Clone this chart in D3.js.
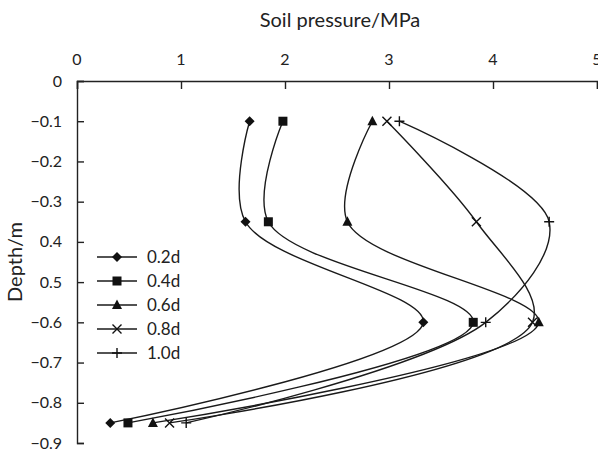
<!DOCTYPE html>
<html lang="en">
<head>
    <meta charset="UTF-8">
    <title>Soil pressure vs depth</title>
    <script src="https://d3js.org/d3.v7.min.js"></script>
    <style>
        body { margin: 0; background: #fff; }
        svg { display: block; }
        text { font-family: Lato, "Open Sans", sans-serif; fill: #222; }
        .tick-label { font-size: 16px; }
        .axis-title { font-size: 20px; text-anchor: middle; }
        .legend-label { font-size: 17px; }
        .series { fill: none; stroke: #1a1a1a; stroke-width: 1.4px; }
    </style>
</head>
<body>
    <div id="chart"></div>

    <script>
        const depths = [-0.1, -0.35, -0.6, -0.85];
        const seriesNames = ["0.2d", "0.4d", "0.6d", "0.8d", "1.0d"];
        const p02 = [1.66, 1.62, 3.33, 0.32];
        const p04 = [1.98, 1.84, 3.81, 0.49];
        const p06 = [2.84, 2.60, 4.44, 0.73];
        const p08 = [2.98, 3.84, 4.38, 0.89];
        const p10 = [3.10, 4.54, 3.93, 1.05];
        const markers = ["diamond", "square", "triangle", "cross", "plus"];
        const xTicks = [0, 1, 2, 3, 4, 5];
        const yTicks = [0, -0.1, -0.2, -0.3, -0.4, -0.5, -0.6, -0.7, -0.8, -0.9];

        const allSeries = [p02, p04, p06, p08, p10];

        const width = 598, height = 455;
        const svg = d3.select("#chart").append("svg")
            .attr("width", width)
            .attr("height", height);

        const x = d3.scaleLinear().domain([0, 5]).range([77, 597]);
        const y = d3.scaleLinear().domain([0, -0.9]).range([81, 443]);

        // axes (ticks point into the plot)
        svg.append("g")
            .attr("transform", `translate(0,${y(0)})`)
            .call(d3.axisBottom(x).tickValues(xTicks).tickSize(8).tickFormat(""))
            .call(g => g.select(".domain").attr("stroke", "#222").attr("stroke-width", 1.4))
            .call(g => g.selectAll(".tick line").attr("stroke", "#222").attr("stroke-width", 1.4));

        svg.append("g")
            .attr("transform", `translate(${x(0)},0)`)
            .call(d3.axisRight(y).tickValues(yTicks).tickSize(7).tickFormat(""))
            .call(g => g.select(".domain").attr("stroke", "#222").attr("stroke-width", 1.4))
            .call(g => g.selectAll(".tick line").attr("stroke", "#222").attr("stroke-width", 1.4));

        svg.append("g").selectAll("text")
            .data(xTicks)
            .enter().append("text")
            .attr("class", "tick-label")
            .attr("x", d => x(d))
            .attr("y", 65)
            .attr("text-anchor", "middle")
            .text(d => d);

        svg.append("g").selectAll("text")
            .data(yTicks)
            .enter().append("text")
            .attr("class", "tick-label")
            .attr("x", 62)
            .attr("y", d => y(d))
            .attr("dy", "0.35em")
            .attr("text-anchor", "end")
            .text(d => d === 0 ? "0" : d3.format(".1f")(d));

        // titles
        svg.append("text")
            .attr("class", "axis-title")
            .attr("x", 340)
            .attr("y", 27)
            .text("Soil pressure/MPa");

        // the depth title box is white and hides part of the tick labels
        svg.append("rect")
            .attr("x", 2).attr("y", 216)
            .attr("width", 38).attr("height", 90)
            .attr("fill", "#fff");

        svg.append("text")
            .attr("class", "axis-title")
            .attr("transform", `translate(22,${(y(0) + y(-0.9)) / 2}) rotate(-90)`)
            .text("Depth/m");

        // series
        const line = d3.line()
            .x(d => x(d[0]))
            .y(d => y(d[1]))
            .curve(d3.curveCatmullRom.alpha(0.5));

        function drawMarker(g, type, cx, cy) {
            if (type === "diamond") {
                g.append("path")
                    .attr("d", `M${cx},${cy - 5}L${cx + 5},${cy}L${cx},${cy + 5}L${cx - 5},${cy}Z`)
                    .attr("fill", "#111");
            } else if (type === "square") {
                g.append("rect")
                    .attr("x", cx - 4.5).attr("y", cy - 4.5)
                    .attr("width", 9).attr("height", 9)
                    .attr("fill", "#111");
            } else if (type === "triangle") {
                g.append("path")
                    .attr("d", `M${cx},${cy - 5.5}L${cx + 5},${cy + 4}L${cx - 5},${cy + 4}Z`)
                    .attr("fill", "#111");
            } else if (type === "cross") {
                g.append("path")
                    .attr("d", `M${cx - 4.5},${cy - 4.5}L${cx + 4.5},${cy + 4.5}M${cx - 4.5},${cy + 4.5}L${cx + 4.5},${cy - 4.5}`)
                    .attr("stroke", "#111").attr("stroke-width", 1.4);
            } else {
                g.append("path")
                    .attr("d", `M${cx - 5},${cy}L${cx + 5},${cy}M${cx},${cy - 5}L${cx},${cy + 5}`)
                    .attr("stroke", "#111").attr("stroke-width", 1.4);
            }
        }

        allSeries.forEach((vals, i) => {
            const pts = vals.map((v, j) => [v, depths[j]]);
            svg.append("path")
                .datum(pts)
                .attr("class", "series")
                .attr("d", line);
            const g = svg.append("g");
            pts.forEach(p => drawMarker(g, markers[i], x(p[0]), y(p[1])));
        });

        // legend
        const legend = svg.append("g");
        seriesNames.forEach((name, i) => {
            const ly = 257 + i * 24;
            legend.append("line")
                .attr("x1", 97).attr("x2", 137)
                .attr("y1", ly).attr("y2", ly)
                .attr("stroke", "#1a1a1a").attr("stroke-width", 1.4);
            drawMarker(legend, markers[i], 117, ly);
            legend.append("text")
                .attr("class", "legend-label")
                .attr("x", 147)
                .attr("y", ly)
                .attr("dy", "0.35em")
                .text(name);
        });
    </script>
</body>
</html>
